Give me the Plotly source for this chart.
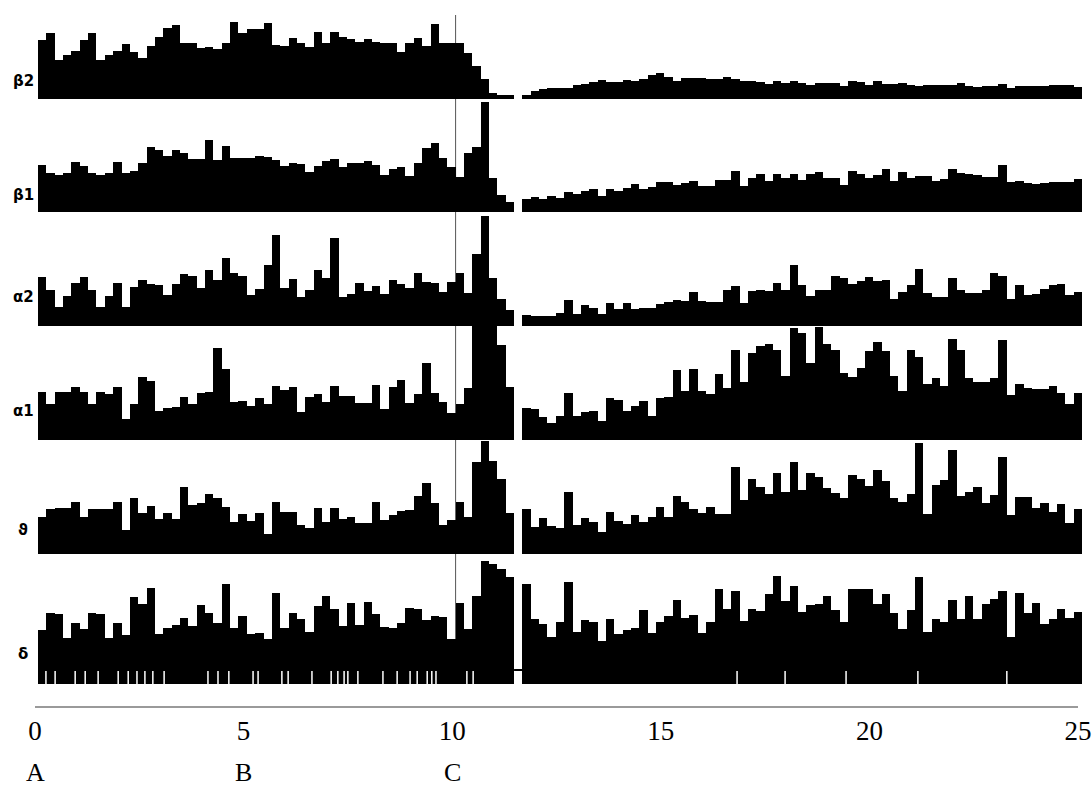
import plotly.graph_objects as go

W, H = 1092, 789
BIN = 0.2          # width of one histogram bin (x units)
GAP_BIN = 57       # index of the empty bin between the two recording segments

band_names = ["β2", "β1", "α2", "α1", "ϑ", "δ"]

beta2_left = [59, 66, 39, 44, 48, 59, 66, 39, 44, 48, 55, 47, 41, 53, 62, 71, 74, 56, 56, 51,
              52, 50, 56, 77, 66, 70, 70, 76, 54, 53, 61, 56, 52, 67, 56, 67, 62, 60, 57, 60,
              57, 56, 56, 47, 56, 61, 53, 75, 56, 56, 56, 46, 33, 20, 6, 4, 4]
beta2_right = [4, 8, 10, 11, 11, 11, 14, 15, 17, 19, 17, 17, 19, 18, 20, 24, 26, 22, 18, 21,
               21, 21, 20, 20, 22, 20, 18, 18, 17, 15, 18, 16, 18, 16, 14, 16, 16, 16, 13, 18,
               17, 14, 18, 15, 15, 16, 14, 13, 14, 14, 14, 14, 16, 13, 12, 13, 13, 15, 11, 13,
               13, 13, 13, 14, 14, 14, 12]

beta1_left = [47, 39, 37, 39, 50, 46, 39, 37, 39, 50, 39, 41, 49, 65, 62, 56, 62, 59, 53, 53,
              72, 52, 66, 54, 54, 54, 56, 55, 52, 46, 49, 48, 40, 46, 51, 53, 45, 49, 49, 51,
              47, 37, 43, 45, 36, 49, 64, 69, 54, 45, 35, 59, 65, 110, 34, 17, 10]
beta1_right = [13, 15, 13, 16, 14, 20, 18, 21, 23, 16, 23, 21, 24, 28, 23, 25, 30, 30, 27, 29,
               31, 26, 26, 32, 32, 41, 26, 34, 38, 31, 38, 34, 38, 32, 38, 40, 34, 34, 27, 41,
               38, 34, 37, 43, 31, 40, 34, 36, 36, 31, 33, 43, 39, 38, 37, 35, 35, 47, 30, 31,
               29, 28, 29, 30, 30, 30, 33]

alpha2_left = [49, 36, 19, 30, 43, 49, 36, 19, 30, 43, 19, 39, 46, 42, 41, 31, 42, 52, 50, 38,
               56, 46, 68, 53, 50, 31, 37, 61, 91, 38, 47, 29, 36, 56, 48, 88, 29, 32, 43, 35,
               40, 32, 46, 42, 38, 53, 44, 43, 34, 44, 53, 33, 72, 110, 48, 27, 16]
alpha2_right = [11, 10, 10, 10, 13, 26, 12, 21, 18, 12, 23, 17, 23, 17, 18, 18, 22, 24, 26, 25,
                34, 25, 24, 24, 36, 40, 23, 35, 36, 35, 43, 36, 61, 41, 30, 36, 36, 50, 48, 42,
                45, 49, 45, 46, 27, 34, 41, 57, 33, 29, 29, 48, 36, 33, 33, 36, 53, 50, 27, 41,
                31, 32, 37, 41, 42, 31, 34]

alpha1_left = [48, 36, 48, 48, 53, 48, 36, 48, 46, 53, 21, 36, 63, 59, 29, 32, 33, 43, 36, 47,
               48, 92, 71, 38, 39, 34, 42, 36, 54, 50, 53, 28, 43, 46, 38, 54, 44, 44, 37, 37,
               55, 31, 53, 60, 37, 46, 77, 47, 38, 27, 36, 52, 114, 114, 114, 95, 53]
alpha1_right = [32, 31, 23, 17, 24, 47, 24, 28, 29, 19, 42, 40, 29, 34, 39, 24, 42, 43, 70, 49,
                71, 49, 46, 66, 52, 90, 58, 87, 94, 96, 90, 64, 112, 107, 77, 113, 96, 90, 67, 63,
                72, 89, 98, 89, 64, 49, 90, 83, 56, 62, 54, 101, 90, 62, 58, 58, 62, 100, 45, 56,
                52, 51, 51, 54, 47, 36, 47]

theta_left = [37, 45, 46, 46, 52, 37, 45, 45, 45, 52, 24, 56, 41, 48, 35, 41, 35, 67, 49, 51,
              60, 56, 47, 32, 40, 33, 41, 20, 52, 42, 42, 29, 26, 46, 32, 46, 35, 37, 31, 31,
              52, 34, 39, 43, 44, 58, 71, 51, 29, 34, 52, 37, 92, 113, 93, 75, 41]
theta_right = [45, 27, 36, 28, 26, 62, 29, 36, 32, 22, 42, 33, 30, 39, 32, 37, 47, 37, 58, 52,
               45, 41, 47, 40, 40, 87, 54, 75, 67, 60, 81, 62, 92, 64, 81, 77, 66, 61, 56, 79,
               75, 68, 84, 73, 56, 52, 60, 111, 40, 69, 74, 104, 58, 62, 67, 51, 59, 97, 39, 57,
               57, 46, 51, 42, 50, 31, 45]

delta_left = [54, 71, 70, 46, 61, 55, 71, 70, 46, 61, 49, 87, 80, 96, 50, 56, 59, 66, 58, 79,
              71, 61, 100, 56, 68, 50, 51, 45, 91, 56, 71, 65, 52, 78, 88, 75, 58, 81, 59, 82,
              70, 57, 56, 61, 76, 75, 64, 68, 67, 45, 81, 55, 88, 123, 120, 115, 107]
delta_right = [100, 65, 60, 47, 62, 102, 52, 64, 62, 43, 65, 50, 54, 56, 74, 51, 62, 68, 84, 66,
               69, 51, 62, 95, 75, 93, 63, 75, 73, 90, 108, 83, 98, 72, 79, 80, 88, 74, 62, 95,
               95, 95, 80, 90, 71, 55, 74, 107, 52, 65, 62, 84, 65, 88, 65, 80, 85, 93, 47, 91,
               71, 81, 60, 65, 75, 66, 72]
delta_gap_level = 14

event_times = [0.19, 0.41, 0.89, 1.13, 1.44, 1.92, 2.16, 2.37, 2.56, 2.75, 3.02, 4.07, 4.31,
               4.57, 5.15, 5.27, 5.84, 5.99, 6.56, 7.02, 7.18, 7.33, 7.42, 7.66, 8.26, 8.60,
               8.91, 9.08, 9.32, 9.43, 9.53, 10.27, 10.42, 16.74, 17.89, 19.35, 21.07, 23.20]
event_height = 13

tick_values = [0, 5, 10, 15, 20, 25]
tick_labels = ["0", "5", "10", "15", "20", "25"]
phase_labels = ["A", "B", "C"]
phase_times = [0, 5, 10]
marker_time = 10

bands = [
    (beta2_left, beta2_right),
    (beta1_left, beta1_right),
    (alpha2_left, alpha2_right),
    (alpha1_left, alpha1_right),
    (theta_left, theta_right),
    (delta_left, delta_right),
]

# ---- layout geometry (pixels from top of page) ----
row_base_px = [99, 212, 326, 440, 554, 684]
row_span_px = [95, 115, 115, 115, 115, 126]
label_y_px = [81, 195, 297, 411, 530, 654]
axis_line_px = 706


def py(px):
    return 1 - px / H


fig = go.Figure()

for r, (left, right) in enumerate(bands):
    xs = [BIN * (i + 0.5) for i in range(len(left))] + \
         [BIN * (GAP_BIN + 1 + i + 0.5) for i in range(len(right))]
    ys = left + right
    yname = "y" if r == 0 else f"y{r + 1}"
    fig.add_trace(go.Bar(x=xs, y=ys, width=BIN, xaxis="x", yaxis=yname,
                         marker=dict(color="black", line=dict(width=0)),
                         showlegend=False, hoverinfo="skip"))

# short level mark inside the empty delta bin
fig.add_trace(go.Scatter(x=[BIN * GAP_BIN, BIN * (GAP_BIN + 1)],
                         y=[delta_gap_level, delta_gap_level],
                         mode="lines", line=dict(color="black", width=2),
                         xaxis="x", yaxis="y6", showlegend=False, hoverinfo="skip"))

# event markers (white ticks at the bottom of the delta row)
ex, ey = [], []
for t in event_times:
    ex += [t, t, None]
    ey += [0, event_height, None]
fig.add_trace(go.Scatter(x=ex, y=ey, mode="lines", line=dict(color="white", width=1.5),
                         xaxis="x", yaxis="y6", showlegend=False, hoverinfo="skip"))

# invisible trace to hold the labelled time axis
fig.add_trace(go.Scatter(x=tick_values, y=[0] * len(tick_values), mode="markers",
                         marker=dict(opacity=0), xaxis="x2", yaxis="y7",
                         showlegend=False, hoverinfo="skip"))

layout = dict(
    width=W, height=H, autosize=False,
    margin=dict(l=0, r=0, t=0, b=0, pad=0, autoexpand=False),
    paper_bgcolor="white", plot_bgcolor="rgba(0,0,0,0)",
    bargap=0, barmode="overlay",
    xaxis=dict(domain=[38 / W, 1082 / W], range=[0, 25], visible=False,
               anchor="y6", fixedrange=True),
    xaxis2=dict(domain=[35 / W, 1078 / W], range=[0, 25], anchor="y7",
                showline=True, linecolor="#9a9a9a", linewidth=2,
                tickmode="array", tickvals=tick_values, ticktext=tick_labels,
                ticks="", showgrid=False, zeroline=False, fixedrange=True,
                tickfont=dict(family="Liberation Serif", size=27, color="black")),
    yaxis7=dict(domain=[py(axis_line_px), py(axis_line_px - 5)], range=[0, 1],
                visible=False, anchor="x2", fixedrange=True),
)
for r in range(6):
    key = "yaxis" if r == 0 else f"yaxis{r + 1}"
    base = row_base_px[r]
    span = row_span_px[r]
    layout[key] = dict(domain=[py(base), py(base - span)], range=[0, span],
                       visible=False, anchor="x", fixedrange=True)

annotations = []
for name, ypx in zip(band_names, label_y_px):
    annotations.append(dict(text=f"<b>{name}</b>", xref="paper", yref="paper",
                            x=23 / W, y=py(ypx), xanchor="center", yanchor="middle",
                            showarrow=False,
                            font=dict(family="DejaVu Sans", size=15, color="black")))
for lab, t in zip(phase_labels, phase_times):
    annotations.append(dict(text=lab, xref="x2", yref="paper", x=t, y=py(788),
                            xanchor="center", yanchor="bottom", showarrow=False,
                            borderpad=0,
                            font=dict(family="Liberation Serif", size=26, color="black")))
layout["annotations"] = annotations

layout["shapes"] = [dict(type="line", xref="x", yref="paper", x0=marker_time, x1=marker_time,
                         y0=py(684), y1=py(15), line=dict(color="#555555", width=1),
                         layer="below")]

fig.update_layout(**layout)

page_css = ("var s=[document.documentElement, document.body];"
            "for (var i=0;i<s.length;i++){s[i].style.margin='0px';s[i].style.padding='0px';"
            "s[i].style.overflow='hidden';}")
fig.write_html("out.html", config={"displayModeBar": False, "responsive": False},
               post_script=page_css)
